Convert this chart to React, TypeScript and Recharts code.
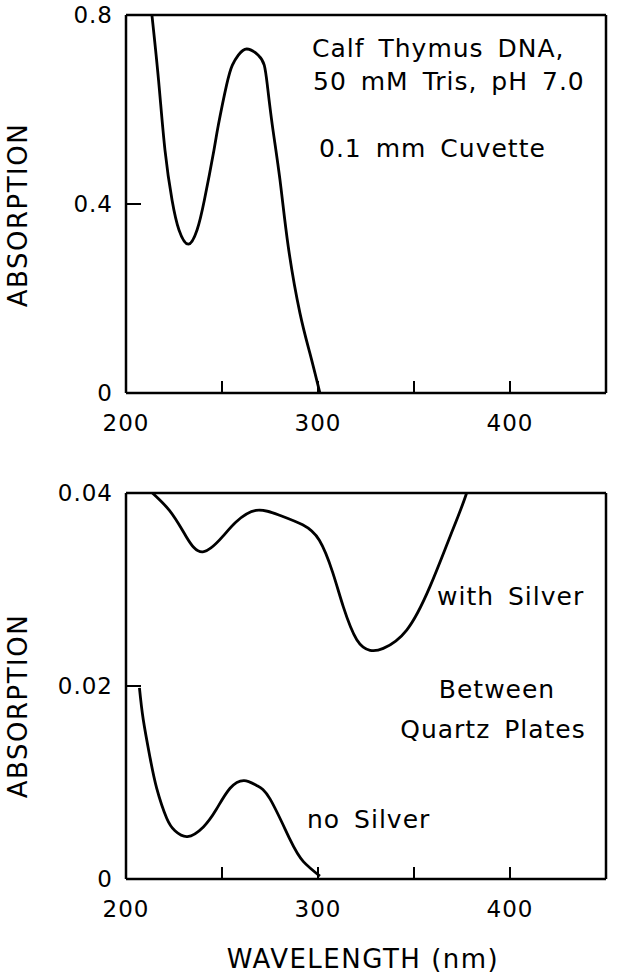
import { LineChart, Line, XAxis, YAxis, ReferenceLine } from 'recharts';

const FONT = '"DejaVu Sans", sans-serif';

// x axis (shared by both panels)
const wavelengthTicks = [200, 250, 300, 350, 400];
const labelledWavelengths = [200, 300, 400];

// upper panel: calf thymus DNA, 0.1 mm cuvette
const dnaWavelength = [
  210, 213.5, 217, 220.3, 224, 227.6, 232.5, 237, 240.8, 245.8, 248.1, 252.4, 255.4, 258.5,
  262.9, 268.9, 272, 273.6, 276.2, 280.2, 284.5, 290.6, 295.8, 301,
];
const dnaAbsorption = [
  0.93, 0.8, 0.66, 0.514, 0.408, 0.345, 0.315, 0.345, 0.408, 0.514, 0.567, 0.652, 0.694, 0.715,
  0.728, 0.715, 0.694, 0.652, 0.567, 0.451, 0.31, 0.169, 0.084, 0,
];
const dnaTicks = [0, 0.4, 0.8];

// lower panel: between quartz plates
const silverWavelength = [
  206, 212.1, 222.6, 231.3, 240, 250.4, 257.3, 267.7, 279.9, 292, 300.7, 307.6, 313.2, 320.2,
  327.1, 334, 346.2, 358.3, 368.8, 377.4, 382,
];
const silverAbsorption = [
  0.0415, 0.0403, 0.0382, 0.0355, 0.0339, 0.0355, 0.037, 0.0382, 0.0377, 0.0367, 0.0351, 0.0318,
  0.0282, 0.0248, 0.0237, 0.0239, 0.0258, 0.0303, 0.0355, 0.04, 0.0438,
];
const plainWavelength = [
  207, 209, 212.5, 216, 221.2, 225.5, 232, 240.3, 247, 254.2, 261.5, 268, 275, 285.4, 292.4, 301,
];
const plainAbsorption = [
  0.0198, 0.0165, 0.0126, 0.0094, 0.0063, 0.005, 0.0044, 0.0054, 0.0072, 0.0094, 0.0102, 0.0097,
  0.0083, 0.0041, 0.0018, 0.0003,
];
const quartzTicks = [0, 0.02, 0.04];

const dna = dnaWavelength.map((wl, i) => ({ wl, a: dnaAbsorption[i] }));
const withSilver = silverWavelength.map((wl, i) => ({ wl, a: silverAbsorption[i] }));
const noSilver = plainWavelength.map((wl, i) => ({ wl, a: plainAbsorption[i] }));

const axisLine = { stroke: '#000', strokeWidth: 2.5 };

function XTick({ x, y, payload }: any) {
  const show = labelledWavelengths.includes(payload.value);
  return (
    <g>
      <line x1={x} y1={y} x2={x} y2={y - 12} stroke="#000" strokeWidth={2} />
      {show && (
        <text
          x={x}
          y={y + 38}
          textAnchor="middle"
          fontSize={23}
          letterSpacing={1}
          fontFamily={FONT}
          fill="#000"
        >
          {payload.value}
        </text>
      )}
    </g>
  );
}

function YTick({ x, y, payload }: any) {
  return (
    <g>
      <line x1={x} y1={y} x2={x + 15} y2={y} stroke="#000" strokeWidth={2} />
      <text
        x={x - 13}
        y={y + 8}
        textAnchor="end"
        fontSize={23}
        letterSpacing={1}
        fontFamily={FONT}
        fill="#000"
      >
        {String(payload.value)}
      </text>
    </g>
  );
}

function Frame({ yMax, yTicks }: { yMax: number; yTicks: number[] }) {
  return [
    <XAxis
      key="xb"
      type="number"
      dataKey="wl"
      domain={[200, 450]}
      ticks={wavelengthTicks}
      height={30}
      tickSize={0}
      tickMargin={0}
      tickLine={false}
      axisLine={axisLine}
      tick={<XTick />}
      allowDataOverflow
    />,
    <YAxis
      key="yl"
      type="number"
      domain={[0, yMax]}
      ticks={yTicks}
      width={60}
      tickSize={0}
      tickMargin={0}
      tickLine={false}
      axisLine={axisLine}
      tick={<YTick />}
      allowDataOverflow
    />,
    <ReferenceLine key="top" y={yMax} stroke="#000" strokeWidth={2.5} />,
    <ReferenceLine key="right" x={450} stroke="#000" strokeWidth={2.5} />,
  ];
}

export default function App() {
  const label = { fontFamily: FONT, fill: '#000' } as const;
  return (
    <div style={{ position: 'absolute', left: 0, top: 0, width: 624, height: 975, background: '#fff' }}>
      <div style={{ position: 'absolute', left: 0, top: 0 }}>
        <LineChart width={624} height={450} margin={{ top: 15, right: 18, bottom: 27, left: 66 }}>
          {Frame({ yMax: 0.8, yTicks: dnaTicks })}
          <Line data={dna} dataKey="a" type="natural" dot={false} stroke="#000" strokeWidth={2.8} isAnimationActive={false} />
        </LineChart>
      </div>
      <div style={{ position: 'absolute', left: 0, top: 470 }}>
        <LineChart width={624} height={505} margin={{ top: 23, right: 18, bottom: 66, left: 66 }}>
          {Frame({ yMax: 0.04, yTicks: quartzTicks })}
          <Line data={withSilver} dataKey="a" type="natural" dot={false} stroke="#000" strokeWidth={2.8} isAnimationActive={false} />
          <Line data={noSilver} dataKey="a" type="natural" dot={false} stroke="#000" strokeWidth={2.8} isAnimationActive={false} />
        </LineChart>
      </div>
      <svg width={624} height={975} style={{ position: 'absolute', left: 0, top: 0, pointerEvents: 'none' }}>
        <g fontSize={25} letterSpacing={1} wordSpacing={5} {...label}>
          <text x={312} y={57}>Calf Thymus DNA,</text>
          <text x={313} y={90}>50 mM Tris, pH 7.0</text>
          <text x={319} y={157}>0.1 mm Cuvette</text>
          <text x={437} y={605}>with Silver</text>
          <text x={497} y={698} textAnchor="middle">Between</text>
          <text x={493} y={738} textAnchor="middle">Quartz Plates</text>
          <text x={307} y={828}>no Silver</text>
        </g>
        <g fontSize={26} letterSpacing={1.5} {...label}>
          <text x={27} y={215} textAnchor="middle" transform="rotate(-90 27 215)">ABSORPTION</text>
          <text x={27} y={706} textAnchor="middle" transform="rotate(-90 27 706)">ABSORPTION</text>
          <text x={363} y={968} textAnchor="middle">WAVELENGTH (nm)</text>
        </g>
      </svg>
    </div>
  );
}
